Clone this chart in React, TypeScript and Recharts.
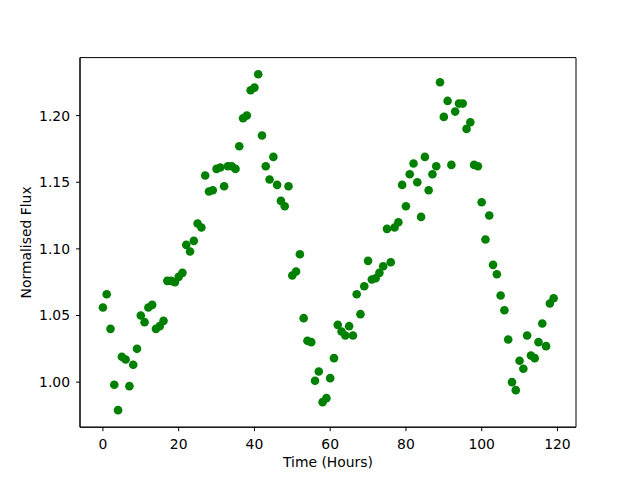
import { ScatterChart, Scatter, XAxis, YAxis, ReferenceArea } from "recharts"

// hours 0..119, one reading per hour
const hours = Array.from({ length: 120 }, (_, i) => i)

const flux = [
  1.056, 1.066, 1.040, 0.998, 0.979, 1.019, 1.017, 0.997, 1.013, 1.025,
  1.050, 1.045, 1.056, 1.058, 1.040, 1.042, 1.046, 1.076, 1.076, 1.075,
  1.079, 1.082, 1.103, 1.098, 1.106, 1.119, 1.116, 1.155, 1.143, 1.144,
  1.160, 1.161, 1.147, 1.162, 1.162, 1.160, 1.177, 1.198, 1.200, 1.219,
  1.221, 1.231, 1.185, 1.162, 1.152, 1.169, 1.148, 1.136, 1.132, 1.147,
  1.080, 1.083, 1.096, 1.048, 1.031, 1.030, 1.001, 1.008, 0.985, 0.988,
  1.003, 1.018, 1.043, 1.038, 1.035, 1.042, 1.035, 1.066, 1.051, 1.072,
  1.091, 1.077, 1.078, 1.082, 1.087, 1.115, 1.090, 1.116, 1.120, 1.148,
  1.132, 1.156, 1.164, 1.150, 1.124, 1.169, 1.144, 1.156, 1.162, 1.225,
  1.199, 1.211, 1.163, 1.203, 1.209, 1.209, 1.190, 1.195, 1.163, 1.162,
  1.135, 1.107, 1.125, 1.088, 1.081, 1.065, 1.054, 1.032, 1.000, 0.994,
  1.016, 1.010, 1.035, 1.020, 1.018, 1.030, 1.044, 1.027, 1.059, 1.063,
]

const xTicks = [0, 20, 40, 60, 80, 100, 120]
const yTicks = [1.0, 1.05, 1.1, 1.15, 1.2]

const points = hours.map((h, i) => ({ t: h, f: flux[i] }))

const xDomain: [number, number] = [-6.05, 124.9]
const yDomain: [number, number] = [0.9662, 1.2435]

const font = { fontFamily: "DejaVu Sans", fontSize: 13.9, fill: "#000" }

const Dot = (props: any) => <circle cx={props.cx} cy={props.cy} r={4.3} fill="#008000" />

export default function App() {
  return (
    <div style={{ position: "absolute", left: 0, top: 0, width: 640, height: 480, background: "#fff" }}>
      <ScatterChart width={640} height={480} margin={{ top: 57.6, right: 64, bottom: 0, left: 0 }}>
        <XAxis
          type="number"
          dataKey="t"
          domain={xDomain}
          ticks={xTicks}
          allowDataOverflow
          height={52.8}
          tickSize={4}
          tickMargin={8}
          tick={font}
          stroke="#000"
          label={{ value: "Time (Hours)", position: "insideBottom", offset: 13, style: font }}
        />
        <YAxis
          type="number"
          dataKey="f"
          domain={yDomain}
          ticks={yTicks}
          allowDataOverflow
          width={80}
          tickSize={4}
          tickMargin={6}
          tick={font}
          tickFormatter={(v: number) => v.toFixed(2)}
          stroke="#000"
          label={{
            value: "Normalised Flux",
            angle: -90,
            position: "insideLeft",
            offset: 26,
            style: { ...font, textAnchor: "middle" },
          }}
        />
        <ReferenceArea x1={xDomain[0]} x2={xDomain[1]} y1={yDomain[0]} y2={yDomain[1]} fill="none" stroke="#000" strokeWidth={1} />
        <Scatter data={points} shape={Dot} isAnimationActive={false} />
      </ScatterChart>
    </div>
  )
}
